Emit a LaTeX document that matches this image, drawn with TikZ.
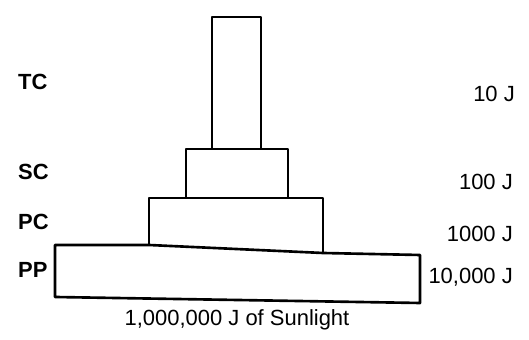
\documentclass[tikz,border=0pt]{standalone}
\usepackage{fontspec}
\setmainfont{Liberation Sans}
\usepackage{tikz}
\usetikzlibrary{positioning}

\begin{document}
\begin{tikzpicture}[
    x=0.02cm, y=-0.02cm,
    tier/.style={draw, line width=1.5pt, line join=round},
    lvl/.style={anchor=west, font=\fontsize{12.5}{14}\selectfont\bfseries},
    nrg/.style={anchor=east, font=\fontsize{12.5}{14}\selectfont}
  ]
    \useasboundingbox (0,0) rectangle (529,340);

    % pyramid tiers, top to bottom
    \draw[tier] (212,17) rectangle (261,149);
    \draw[tier] (186,149) rectangle (288,198);
    \draw[tier] (149,245) -- (149,198) -- (323,198) -- (323,253);
    \draw[tier] (55,245) -- (149,245) -- (323,253) -- (420,255) -- (420,303) -- (55,297) -- cycle;

    % trophic levels
    \node[lvl] (tc) at (12,82) {TC};
    \node[lvl] (sc) at (12,172) {SC};
    \node[lvl] (pc) at (12,222) {PC};
    \node[lvl] (pp) at (12,270) {PP};

    % energy at each level
    \node[nrg] (etc) at (521,94) {10 J};
    \node[nrg] (esc) at (519,182) {100 J};
    \node[nrg] (epc) at (519,234) {1000 J};
    \node[nrg] (epp) at (519,277) {10,000 J};

    \node[font=\fontsize{12.5}{14}\selectfont] (sun) at (237,320) {1,000,000 J of Sunlight};
\end{tikzpicture}
\end{document}
